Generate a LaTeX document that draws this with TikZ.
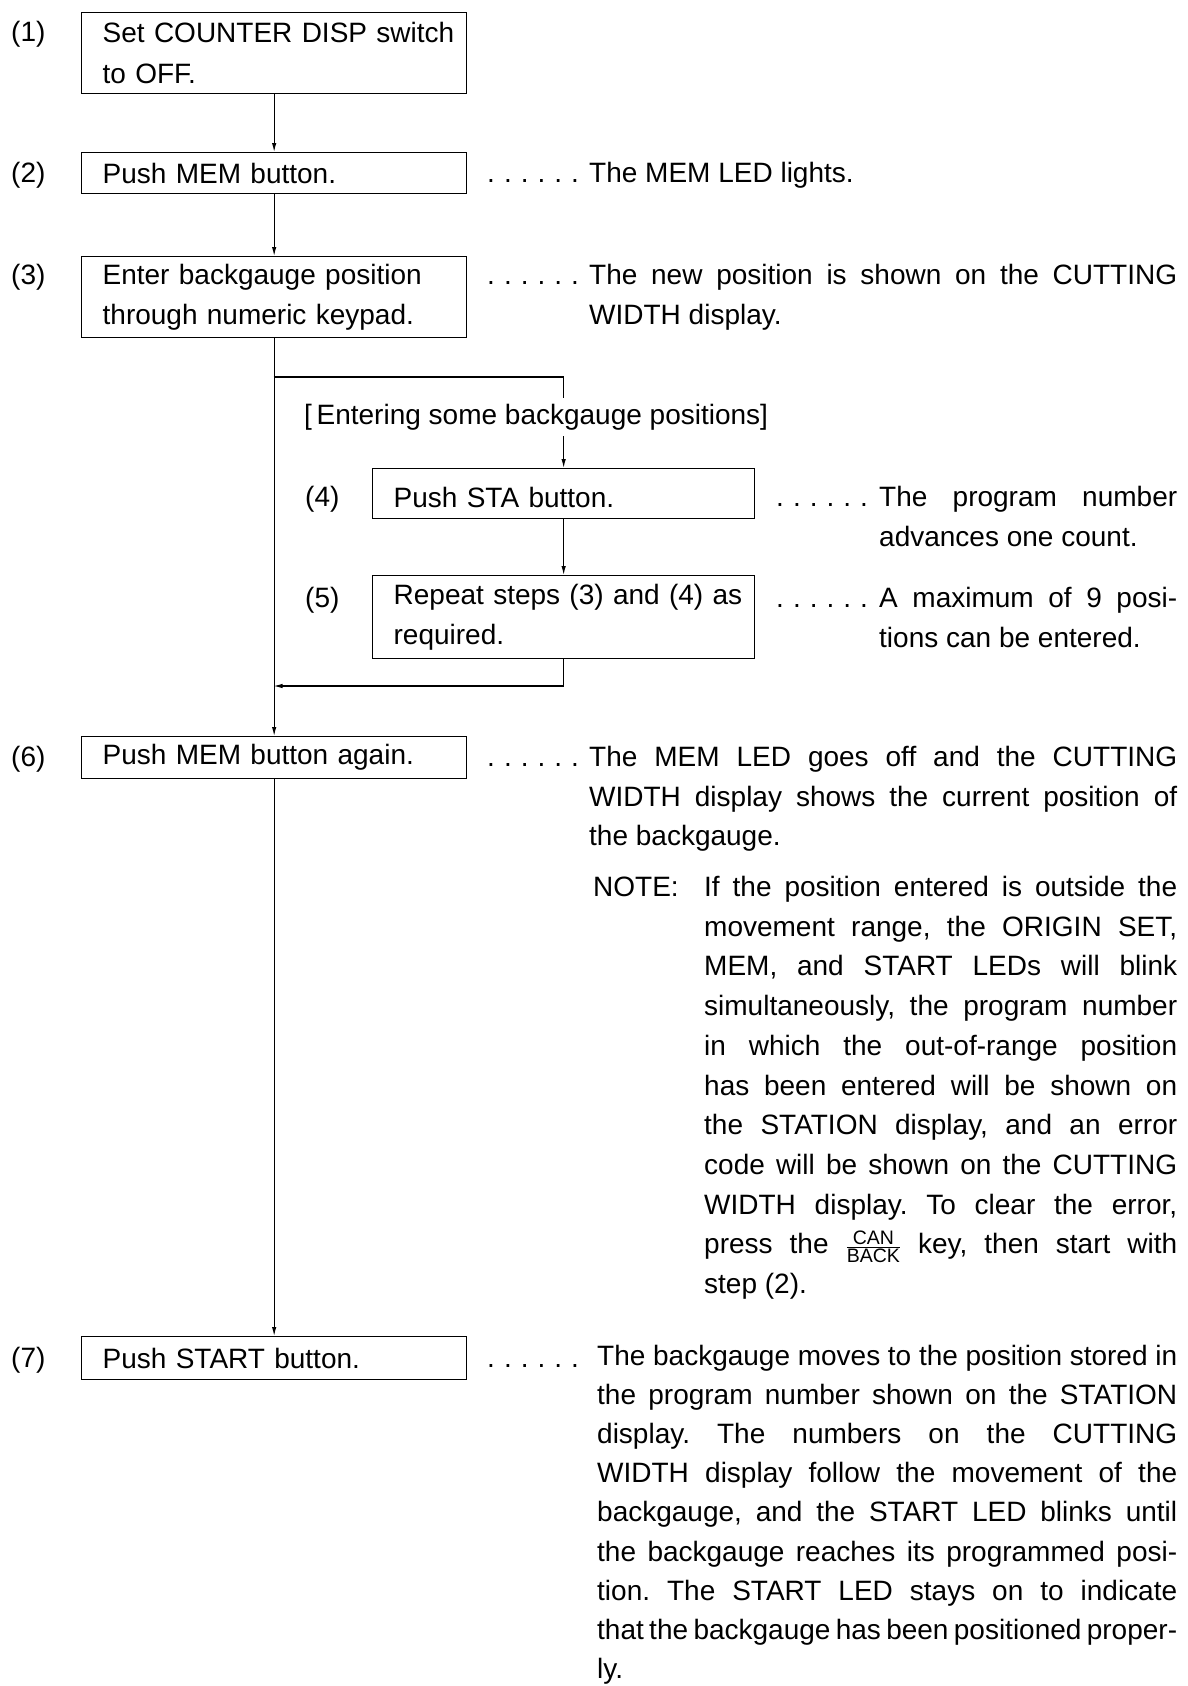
\documentclass[tikz,border=0pt]{standalone}
\usepackage{fontspec}
\setmainfont{Liberation Sans}
\usetikzlibrary{arrows.meta}
\frenchspacing
\newlength\jbw
\newcommand\jblock[3][39.7]{\setlength\jbw{#2}\parbox[t]{\jbw}{\fontsize{28}{#1}\selectfont\frenchspacing#3}}
\newcommand\jl[1]{\makebox[\jbw][s]{#1}\par}
\newcommand\leaddots{\makebox[16.8pt][l]{.}\makebox[16.8pt][l]{.}\makebox[16.8pt][l]{.}\makebox[16.8pt][l]{.}\makebox[16.8pt][l]{.}.}
\newcommand\canback{$\frac{\mbox{\fontsize{19.5}{19.5}\selectfont CAN}}{\mbox{\fontsize{19.5}{19.5}\selectfont BACK}}$}
\begin{document}
\begin{tikzpicture}[x=1pt,y=-1pt,
  every node/.style={font=\fontsize{28}{40.5}\selectfont, text=black},
  stepbox/.style={draw, line width=1.3pt, rectangle, anchor=north west,
    inner xsep=21pt, inner ysep=0pt, align=left},
  mainbox/.style={stepbox, text width=343pt},
  subbox/.style={stepbox, text width=340pt},
  num/.style={anchor=base west, inner sep=0pt},
  txt/.style={anchor=base west, inner sep=0pt},
  flow/.style={line width=1.1pt, -{Latex[length=9pt,width=4.5pt]}}]
\useasboundingbox (0,0) rectangle (1188,1686);

% step boxes
\node[mainbox, minimum height=81pt] (b1) at (81,12) {\mbox{Set COUNTER DISP switch}\\\mbox{to OFF.}};
\node[mainbox, minimum height=41pt] (b2) at (81,152) {\mbox{Push MEM button.}};
\node[mainbox, minimum height=81pt] (b3) at (81,256) {\mbox{Enter backgauge position}\\\mbox{through numeric keypad.}};
\node[subbox, minimum height=50pt, text height=27pt, text depth=0pt] (b4) at (372,468) {\mbox{Push STA button.}};
\node[subbox, minimum height=83pt] (b5) at (372,575) {\mbox{Repeat steps (3) and (4) as}\\\mbox{required.}};
\node[mainbox, minimum height=42pt] (b6) at (81,736) {\mbox{Push MEM button again.}};
\node[mainbox, minimum height=43pt] (b7) at (81,1336) {\mbox{Push START button.}};

% step numbers
\node[num] (n1) at (11,41.5) {(1)};
\node[num] (n2) at (11,182.5) {(2)};
\node[num] (n3) at (11,284.5) {(3)};
\node[num] (n4) at (305,506.5) {(4)};
\node[num] (n5) at (305,607.5) {(5)};
\node[num] (n6) at (11,766.5) {(6)};
\node[num] (n7) at (11,1367.5) {(7)};

% leader dots
\node[txt] (d2) at (487,182.5) {\leaddots};
\node[txt] (d3) at (487,284.5) {\leaddots};
\node[txt] (d4) at (776,506.5) {\leaddots};
\node[txt] (d5) at (776,607.5) {\leaddots};
\node[txt] (d6) at (487,766.5) {\leaddots};
\node[txt] (d7) at (487,1367.5) {\leaddots};

% explanations
\node[txt] (t2) at (589,182.5) {The MEM LED lights.};
\node[txt] (t3) at (589,284.5) {\jblock{588pt}{\jl{The new position is shown on the CUTTING}WIDTH display.}};
\node[txt] (t4) at (879,506.5) {\jblock{298pt}{\jl{The program number}advances one count.}};
\node[txt] (t5) at (879,607.5) {\jblock{298pt}{\jl{A maximum of 9 posi-}tions can be entered.}};
\node[txt] (t6) at (589,766.5) {\jblock{588pt}{\jl{The MEM LED goes off and the CUTTING}\jl{WIDTH display shows the current position of}the backgauge.}};
\node[txt] (note) at (593,896.5) {NOTE:};
\node[txt] (t6n) at (704,896.5) {\jblock{473pt}{%
\jl{If the position entered is outside the}%
\jl{movement range, the ORIGIN SET,}%
\jl{MEM, and START LEDs will blink}%
\jl{simultaneously, the program number}%
\jl{in which the out-of-range position}%
\jl{has been entered will be shown on}%
\jl{the STATION display, and an error}%
\jl{code will be shown on the CUTTING}%
\jl{WIDTH display. To clear the error,}%
\jl{press the \canback{} key, then start with}%
step (2).}};
\node[txt] (t7) at (597,1365) {\jblock[39.2]{580pt}{%
\jl{The backgauge moves to the position stored in}%
\jl{the program number shown on the STATION}%
\jl{display. The numbers on the CUTTING}%
\jl{WIDTH display follow the movement of the}%
\jl{backgauge, and the START LED blinks until}%
\jl{the backgauge reaches its programmed posi-}%
\jl{tion. The START LED stays on to indicate}%
\jl{that the backgauge has been positioned proper-}%
ly.}};

% connectors
\draw[flow] (b1.south) -- (b2.north);
\draw[flow] (b2.south) -- (b3.north);
\draw[flow] (b3.south) -- (b6.north);
\coordinate (brL) at (273.5,377);
\coordinate (lpL) at (273.5,686);
\draw[flow] (brL) -| (b4.north);
\draw[flow] (b4.south) -- (b5.north);
\draw[flow] (b5.south) |- (lpL);
\draw[flow] (b6.south) -- (b7.north);

% branch label (over the branch line)
\node[anchor=west, fill=white, inner xsep=0pt, inner ysep=6pt] (lab) at (304,417) {[\,Entering some backgauge positions]};
\end{tikzpicture}
\end{document}
